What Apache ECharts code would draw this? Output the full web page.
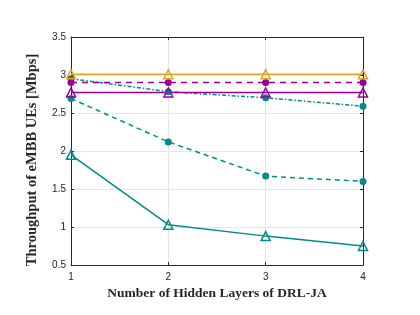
<!DOCTYPE html>
<html>
<head>
<meta charset="utf-8">
<script src="https://cdn.jsdelivr.net/npm/echarts@6/dist/echarts.min.js"></script>
<style>
html,body{margin:0;padding:0;background:#fff;}
#c{width:420px;height:315px;}
</style>
</head>
<body>
<div id="c"></div>
<script>
const layers = [1, 2, 3, 4];
const yellowSolid = [3.01, 3.01, 3.01, 3.01];
const purpleDashed = [2.90, 2.90, 2.90, 2.90];
const purpleSolid = [2.77, 2.77, 2.77, 2.77];
const tealDashDot = [2.95, 2.78, 2.70, 2.59];
const tealDashed = [2.69, 2.12, 1.67, 1.60];
const tealSolid = [1.95, 1.03, 0.88, 0.75];
const xTicks = [1, 2, 3, 4];
const yTicks = [0.5, 1, 1.5, 2, 2.5, 3, 3.5];
const xTitle = 'Number of Hidden Layers of DRL-JA';
const yTitle = 'Throughput of eMBB UEs [Mbps]';

const TEAL = '#008b8b', PURPLE = '#990099', YELLOW = '#e3a520';

function pairs(arr){ return arr.map((v,i)=>[layers[i], v]); }
function mk(data, color, type, symbol){
  const hollow = symbol === 'triangle';
  return {
    type: 'line', data: pairs(data), symbol: symbol, symbolSize: hollow ? 9 : 7,
    lineStyle: {color: color, width: 1.5, type: type},
    itemStyle: hollow ? {color: 'rgba(255,255,255,0)', borderColor: color, borderWidth: 1.5} : {color: color},
    emphasis: {disabled: true}, animation: false, z: 3
  };
}
const axisCommon = {
  axisLine: {show: true, lineStyle: {color: '#262626', width: 1}},
  axisTick: {show: true, inside: true, length: 3, lineStyle: {color: '#262626'}},
};
const chart = echarts.init(document.getElementById('c'));
chart.setOption({
  animation: false,
  grid: {left: 71, right: 57, top: 37, bottom: 50},
  graphic: [{
    type: 'text', x: 32, y: 160, rotation: Math.PI / 2,
    style: {text: yTitle, fontFamily: 'Liberation Serif', fontWeight: 'bold', fontSize: 14.5,
      fill: '#262626', align: 'center', verticalAlign: 'middle'}
  }],
  xAxis: [{
    type: 'value', min: 1, max: 4, interval: 1, ...axisCommon,
    axisLabel: {color: '#262626', fontSize: 10, fontFamily: 'Liberation Sans', margin: 7,
      formatter: v => xTicks.includes(v) ? String(v) : ''},
    splitLine: {show: true, lineStyle: {color: '#e6e6e6', width: 1}},
    name: xTitle, nameLocation: 'middle', nameGap: 22,
    nameTextStyle: {fontFamily: 'Liberation Serif', fontWeight: 'bold', fontSize: 13.5, color: '#262626'}
  },{
    type: 'value', min: 1, max: 4, interval: 1, position: 'top', ...axisCommon,
    axisLabel: {show: false}, splitLine: {show: false}
  }],
  yAxis: [{
    type: 'value', min: 0.5, max: 3.5, interval: 0.5, ...axisCommon,
    axisLabel: {color: '#262626', fontSize: 10, fontFamily: 'Liberation Sans', margin: 5,
      formatter: v => yTicks.includes(v) ? String(v) : ''},
    splitLine: {show: true, lineStyle: {color: '#e6e6e6', width: 1}}
  },{
    type: 'value', min: 0.5, max: 3.5, interval: 0.5, position: 'right', ...axisCommon,
    axisLabel: {show: false}, splitLine: {show: false}
  }],
  series: [
    mk(tealSolid, TEAL, 'solid', 'triangle'),
    mk(tealDashed, TEAL, [5, 4], 'circle'),
    mk(tealDashDot, TEAL, [4, 2, 1.5, 2], 'circle'),
    mk(purpleSolid, PURPLE, 'solid', 'triangle'),
    mk(purpleDashed, PURPLE, [6, 5], 'circle'),
    mk(yellowSolid, YELLOW, 'solid', 'triangle')
  ]
});
</script>
</body>
</html>
